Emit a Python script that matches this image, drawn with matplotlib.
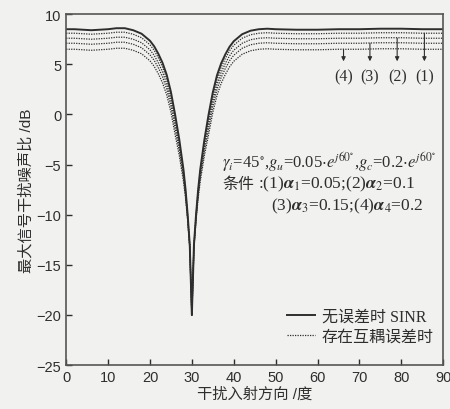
import matplotlib
matplotlib.use("Agg")
import matplotlib.pyplot as plt

plt.rcParams['font.family'] = ['Liberation Sans', 'Noto Sans CJK SC']
plt.rcParams['mathtext.fontset'] = 'stix'

## Data ---------------------------------------------

angles = [0, 2, 4, 6, 8, 10, 12, 14, 16, 18, 20, 21, 22, 23, 24, 25, 26, 27,
          28, 28.5, 29, 29.5, 30, 30.5, 31, 31.5, 32, 33, 34, 35, 36, 37, 38, 39,
          40, 42, 44, 46, 48, 50, 55, 60, 65, 70, 75, 80, 85, 90]

sinr_ideal = [8.5, 8.5, 8.45, 8.4, 8.45, 8.5, 8.6, 8.6, 8.4, 8.05, 7.35, 6.8, 6.05, 5.15,
              3.95, 2.25, 0.0, -2.5, -5.5, -7.5, -10.0, -13.0, -20.0, -13.0, -10.0, -7.5,
              -5.5, -2.5, 0.0, 2.2, 3.9, 5.1, 6.0, 6.75, 7.3, 8.0, 8.35, 8.5, 8.55, 8.5,
              8.45, 8.45, 8.5, 8.5, 8.55, 8.55, 8.5, 8.5]

sinr_a1 = [8.1, 8.1, 8.05, 8.0, 8.05, 8.1, 8.2, 8.2, 8.0, 7.65, 6.95, 6.4, 5.65, 4.75,
           3.55, 1.85, -0.4, -2.8, -5.7, -7.65, -10.1, -13.05, -20.0, -13.05, -10.1, -7.65,
           -5.7, -2.8, -0.4, 1.8, 3.5, 4.7, 5.6, 6.35, 6.9, 7.6, 7.95, 8.1, 8.15, 8.1,
           8.05, 8.05, 8.1, 8.1, 8.15, 8.15, 8.1, 8.1]

sinr_a2 = [7.6, 7.6, 7.55, 7.5, 7.55, 7.6, 7.7, 7.7, 7.5, 7.15, 6.45, 5.9, 5.15, 4.25,
           3.05, 1.35, -0.9, -3.2, -6.0, -7.85, -10.25, -13.1, -20.0, -13.1, -10.25, -7.85,
           -6.0, -3.2, -0.9, 1.3, 3.0, 4.2, 5.1, 5.85, 6.4, 7.1, 7.45, 7.6, 7.65, 7.6,
           7.55, 7.55, 7.6, 7.6, 7.65, 7.65, 7.6, 7.6]

sinr_a3 = [7.1, 7.1, 7.05, 7.0, 7.05, 7.1, 7.2, 7.2, 7.0, 6.65, 5.95, 5.4, 4.65, 3.75,
           2.55, 0.85, -1.4, -3.6, -6.3, -8.1, -10.4, -13.2, -20.0, -13.2, -10.4, -8.1,
           -6.3, -3.6, -1.4, 0.8, 2.5, 3.7, 4.6, 5.35, 5.9, 6.6, 6.95, 7.1, 7.15, 7.1,
           7.05, 7.05, 7.1, 7.1, 7.15, 7.15, 7.1, 7.1]

sinr_a4 = [6.5, 6.5, 6.45, 6.4, 6.45, 6.5, 6.6, 6.6, 6.4, 6.05, 5.35, 4.8, 4.05, 3.15,
           1.95, 0.25, -2.0, -4.1, -6.7, -8.4, -10.6, -13.3, -20.0, -13.3, -10.6, -8.4,
           -6.7, -4.1, -2.0, 0.2, 1.9, 3.1, 4.0, 4.75, 5.3, 6.0, 6.35, 6.5, 6.55, 6.5,
           6.45, 6.45, 6.5, 6.5, 6.55, 6.55, 6.5, 6.5]

curve_labels = ["(1)", "(2)", "(3)", "(4)"]
arrow_x = [85.5, 79, 72.5, 66.2]
arrow_top = [8.1, 7.6, 7.1, 6.5]

## Plot ---------------------------------------------

bg = '#f1f1ef'
ink = '#2e2e2e'
fig = plt.figure(figsize=(4.5, 4.1), dpi=100, facecolor=bg)
ax = fig.add_axes([0.147, 0.107, 0.838, 0.856], facecolor=bg)

ax.plot(angles, sinr_ideal, color=ink, lw=1.4, label='无误差时 SINR')
for i, ys in enumerate([sinr_a1, sinr_a2, sinr_a3, sinr_a4]):
    ax.plot(angles, ys, color=ink, lw=0.9, linestyle=(0, (1, 1)),
            label='存在互耦误差时' if i == 0 else None)

for lab, x, top in zip(curve_labels, arrow_x, arrow_top):
    ax.annotate('', xy=(x, 5.3), xytext=(x, top),
                arrowprops=dict(arrowstyle='-|>', color=ink, lw=0.8,
                                mutation_scale=6, shrinkA=0, shrinkB=0))
    ax.text(x, 3.8, lab, ha='center', va='center', fontsize=11.5,
            family=['Liberation Serif'], color=ink)

serif = ['Liberation Serif']
ax.text(37.2, -4.6, r'$\gamma_i$=45$^{\circ}$,$g_u$=0.05$\cdot e^{j60^{\circ}}$,'
        r'$g_c$=0.2$\cdot e^{j60^{\circ}}$', fontsize=12, family=serif,
        color=ink, va='center')
ax.text(37.2, -6.9, '条件', fontsize=11.5, family=['Noto Sans CJK SC'],
        color=ink, va='center')
ax.annotate(r':(1)$\boldsymbol{\alpha}_1$=0.05;(2)$\boldsymbol{\alpha}_2$=0.1',
            xy=(37.2, -6.9), xytext=(26, 0), textcoords='offset points',
            fontsize=12.5, family=serif, color=ink, va='center')
ax.text(49.0, -9.1, r'(3)$\boldsymbol{\alpha}_3$=0.15;(4)$\boldsymbol{\alpha}_4$=0.2',
        fontsize=12.5, family=serif, color=ink, va='center')

ax.set_xlim(0, 90)
ax.set_ylim(-25, 10)
ax.set_xticks(range(0, 91, 10))
ax.set_yticks(range(-25, 11, 5))
ax.tick_params(direction='in', length=4, width=1, colors=ink, labelsize=10.5)
for s in ax.spines.values():
    s.set_color('#555555')
    s.set_linewidth(1.2)

ax.set_xlabel('干扰入射方向 /度', fontsize=11, color=ink, labelpad=2)
ax.set_ylabel('最大信号干扰噪声比 /dB', fontsize=11, color=ink, labelpad=2)

leg = ax.legend(loc='lower right', frameon=False, handlelength=1.8,
                prop={'family': ['Liberation Serif', 'Noto Sans CJK SC'], 'size': 11.5},
                handletextpad=0.4, borderaxespad=0.2, labelspacing=0.3,
                bbox_to_anchor=(1.0, 0.03))
for t in leg.get_texts():
    t.set_color(ink)

fig.savefig('out.png', dpi=100, facecolor=bg)
